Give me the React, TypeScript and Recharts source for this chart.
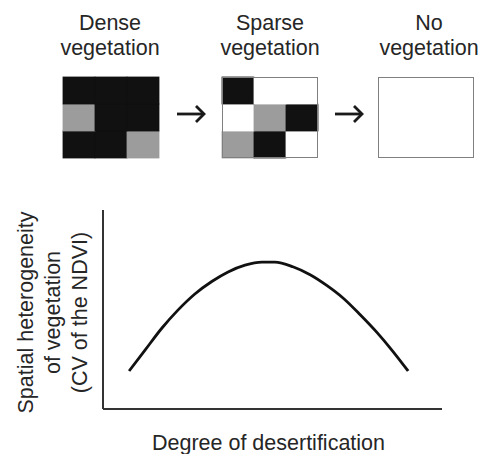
import React from 'react';
import {
  BarChart, Bar, Cell, XAxis, YAxis,
  LineChart, Line,
} from 'recharts';

// top panel: 3x3 cover grids, level 2 = dense plant, 1 = sparse plant, 0 = bare
const GRID_COLS = ['c0', 'c1', 'c2'];
const DENSE_TOP = [2, 2, 2];
const DENSE_MID = [1, 2, 2];
const DENSE_BOT = [2, 2, 1];
const SPARSE_TOP = [2, 0, 0];
const SPARSE_MID = [0, 1, 2];
const SPARSE_BOT = [1, 2, 0];
const NONE_TOP = [0, 0, 0];
const NONE_MID = [0, 0, 0];
const NONE_BOT = [0, 0, 0];

const STAGES = [
  { title: ['Dense', 'vegetation'], rows: [DENSE_BOT, DENSE_MID, DENSE_TOP], border: false },
  { title: ['Sparse', 'vegetation'], rows: [SPARSE_BOT, SPARSE_MID, SPARSE_TOP], border: true },
  { title: ['No', 'vegetation'], rows: [NONE_BOT, NONE_MID, NONE_TOP], border: true },
];

// bottom panel: hump-shaped response
const DEGREE = [7.7, 12.4, 17.4, 22.1, 27.1, 32.2, 36.9, 41.9, 46.9, 50.7, 56.0, 61.1, 66.1, 70.8, 75.8, 80.8, 85.5, 90.0];
const HETERO = [19.1, 29.6, 40.7, 49.7, 57.8, 64.2, 68.9, 72.3, 73.8, 73.8, 71.5, 67.5, 62.0, 55.8, 47.5, 38.5, 29.0, 19.1];
const X_LABEL = 'Degree of desertification';
const Y_LABEL = ['Spatial heterogeneity', 'of vegetation', '(CV of the NDVI)'];

const FONT = '"Liberation Sans", Arial, sans-serif';
const INK = '#262626';
const LEVEL_FILL = ['#ffffff', '#9c9c9c', '#111111'];

const BOX_LEFT = [63, 222, 378];
const LABEL_CX = [110, 270, 429];
const ARROW_X = [177, 335];

const cellShape = (p: any) => (
  <rect x={p.x} y={p.y} width={p.width} height={p.height} fill={p.fill} stroke={p.fill} strokeWidth={0.8} />
);

function CoverGrid({ rows }: { rows: number[][] }) {
  const data = GRID_COLS.map((c) => ({ col: c, r0: 1, r1: 1, r2: 1 }));
  return (
    <BarChart width={98} height={83} data={data} margin={{ top: 1, right: 1, bottom: 1, left: 1 }}
      barCategoryGap={0} barGap={0}>
      <XAxis dataKey="col" hide />
      <YAxis hide domain={[0, 3]} />
      {['r0', 'r1', 'r2'].map((k, ri) => (
        <Bar key={k} dataKey={k} stackId="g" isAnimationActive={false} shape={cellShape}>
          {data.map((d, ci) => (
            <Cell key={ci} fill={LEVEL_FILL[rows[ri][ci]]} />
          ))}
        </Bar>
      ))}
    </BarChart>
  );
}

function YLabel({ viewBox }: any) {
  const cy = viewBox.y + viewBox.height / 2 + 3;
  const xs = [33, 60, 87];
  return (
    <g>
      {Y_LABEL.map((t, i) => (
        <text key={i} x={xs[i]} y={cy} transform={`rotate(-90 ${xs[i]} ${cy})`} textAnchor="middle"
          fontFamily={FONT} fontSize={21.5} fill={INK}>{t}</text>
      ))}
    </g>
  );
}

function XLabel({ viewBox }: any) {
  const cx = viewBox.x + viewBox.width / 2 - 4;
  return (
    <text x={cx} y={viewBox.y + 41} textAnchor="middle" fontFamily={FONT} fontSize={21.5} fill={INK}>
      {X_LABEL}
    </text>
  );
}

export default function App() {
  const curve = DEGREE.map((x, i) => ({ x, y: HETERO[i] }));

  return (
    <div style={{ position: 'absolute', left: 0, top: 0, width: 482, height: 454, background: '#fff', overflow: 'hidden', fontFamily: FONT }}>
      {STAGES.map((s, i) => (
        <React.Fragment key={i}>
          <div style={{ position: 'absolute', left: LABEL_CX[i] - 70, top: 11, width: 140, textAlign: 'center', fontSize: 21.5, lineHeight: '25px', color: INK }}>
            {s.title[0]}<br />{s.title[1]}
          </div>
          <div style={{ position: 'absolute', left: BOX_LEFT[i] - 1, top: 76 }}>
            <CoverGrid rows={s.rows} />
          </div>
          {s.border && (
            <div style={{ position: 'absolute', left: BOX_LEFT[i], top: 77, width: 96, height: 81, boxSizing: 'border-box', border: '1.5px solid #808080', pointerEvents: 'none' }} />
          )}
        </React.Fragment>
      ))}

      <svg width={482} height={180} style={{ position: 'absolute', left: 0, top: 0 }}>
        {ARROW_X.map((x, i) => (
          <g key={i} stroke="#1a1a1a" strokeWidth={2.8} fill="none" strokeLinecap="butt">
            <line x1={x} y1={114} x2={x + 27} y2={114} />
            <path d={`M ${x + 19} ${106} L ${x + 27} ${114} L ${x + 19} ${122}`} strokeLinejoin="miter" />
          </g>
        ))}
      </svg>

      <div style={{ position: 'absolute', left: 0, top: 180 }}>
        <LineChart width={482} height={274} data={curve} margin={{ top: 30, right: 40, bottom: 44, left: 102 }}>
          <XAxis dataKey="x" type="number" domain={[0, 100]} tick={false} tickLine={false} height={1}
            axisLine={{ stroke: '#333', strokeWidth: 2 }} label={<XLabel />} />
          <YAxis type="number" domain={[0, 100]} tick={false} tickLine={false} width={1}
            axisLine={{ stroke: '#333', strokeWidth: 2 }} label={<YLabel />} />
          <Line type="monotone" dataKey="y" stroke="#111" strokeWidth={2.8} dot={false} isAnimationActive={false} />
        </LineChart>
      </div>
    </div>
  );
}
